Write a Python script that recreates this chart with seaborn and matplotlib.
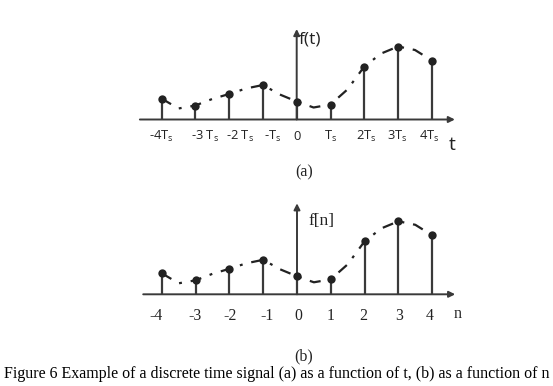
import matplotlib
matplotlib.use("Agg")
import matplotlib.pyplot as plt
import seaborn as sns

# ---- data (heights in px above the axis) ----
n_idx = [-4, -3, -2, -1, 0, 1, 2, 3, 4]
f_samples = [21, 14, 25.5, 34.5, 18, 15, 53, 73, 59]

# envelope curve, read at half steps
curve_x = [-4, -3.5, -3, -2.5, -2, -1.5, -1, -0.5, 0, 0.5, 1, 1.5, 2, 2.5, 3, 3.5, 4]
curve_y = [21, 11, 14, 20.5, 25.5, 31, 34.5, 25, 18, 12, 15, 30, 53, 66, 73, 69.5, 59]

labels_t = ["-4T$_s$", "-3 T$_s$", "-2 T$_s$", "-T$_s$", "0", "T$_s$", "2T$_s$",
            "3T$_s$", "4T$_s$"]
labels_n = ["-4", "-3", "-2", "-1", "0", "1", "2", "3", "4"]
caption = "Figure 6 Example of a discrete time signal (a) as a function of t, (b) as a function of n"

# ---- style ----
sns.set_style("white")
SANS = ["Open Sans", "DejaVu Sans"]
SERIF = ["Liberation Serif", "DejaVu Serif"]
plt.rcParams["font.family"] = SANS
plt.rcParams["mathtext.default"] = "regular"
INK = "#222222"
AXC = "#3a3a3a"

W, H = 553, 386
fig = plt.figure(figsize=(W / 100, H / 100), dpi=100)


def make_ax(zero_x, base_y, scale, xlim, ylim):
    # 1 x unit = scale px, 1 y unit = 1 px
    left = zero_x + xlim[0] * scale
    right = zero_x + xlim[1] * scale
    bottom = base_y - ylim[0]
    top = base_y - ylim[1]
    ax = fig.add_axes([left / W, 1 - bottom / H, (right - left) / W, (bottom - top) / H])
    ax.set_xlim(xlim)
    ax.set_ylim(ylim)
    ax.axis("off")
    return ax


def draw_signal(ax, x_start, x_end, y_top):
    # axes with arrows
    ax.annotate("", xy=(x_end, 0), xytext=(x_start, 0),
                arrowprops=dict(arrowstyle="-|>", color=AXC, lw=1.4, mutation_scale=9,
                                shrinkA=0, shrinkB=0))
    ax.annotate("", xy=(0, y_top), xytext=(0, 0),
                arrowprops=dict(arrowstyle="-|>", color=AXC, lw=1.4, mutation_scale=9,
                                shrinkA=0, shrinkB=0))
    # envelope
    sns.lineplot(x=curve_x, y=curve_y, ax=ax, color=INK, lw=1.6, legend=False,
                 linestyle=(0, (5, 4, 1.3, 4)), zorder=2)
    # stems + dots
    ax.vlines(n_idx, 0, f_samples, color=AXC, lw=1.6, zorder=3)
    sns.scatterplot(x=n_idx, y=f_samples, ax=ax, color=INK, s=36, edgecolor=INK,
                    linewidth=0, zorder=4, legend=False)


# ---- panel (a) ----
ax_a = make_ax(296.7, 119.5, 33.8, (-5.0, 5.3), (-65, 100))
draw_signal(ax_a, -4.64, 4.68, 90.5)
shift_a = [0, 0.28, 0.33, 0.3, 0, 0, 0.07, -0.03, -0.07]
for x, lab, dx in zip(n_idx, labels_t, shift_a):
    ax_a.text(x + dx, -16.5, lab, ha="center", va="center", fontsize=9.3, color=INK)
ax_a.text(0.06, 79.5, "f(t)", ha="left", va="center", fontsize=12.5, color=INK)
ax_a.text(4.6, -26, "t", ha="center", va="center", fontsize=14, color=INK)
ax_a.text(0.22, -53, "(a)", ha="center", va="center", fontsize=11.5, color=INK, family=SERIF)

# ---- panel (b) ----
ax_b = make_ax(297.0, 294.3, 33.8, (-5.0, 5.3), (-70, 100))
draw_signal(ax_b, -4.55, 4.68, 91)
shift_b = [-0.17, -0.03, 0.02, 0.1, 0.05, 0, -0.04, 0.03, -0.06]
for x, lab, dx in zip(n_idx, labels_n, shift_b):
    ax_b.text(x + dx, -21.7, lab, ha="center", va="center", fontsize=11.3, color=INK,
              family=SERIF)
ax_b.text(0.33, 73, "f[n]", ha="left", va="center", fontsize=12.5, color=INK, family=SERIF)
ax_b.text(4.75, -20, "n", ha="center", va="center", fontsize=11.5, color=INK, family=SERIF)
ax_b.text(0.19, -62.4, "(b)", ha="center", va="center", fontsize=11.5, color=INK, family=SERIF)

fig.text(277 / W, 1 - 374 / H, caption, ha="center", va="center", fontsize=11.5,
         color="black", family=SERIF)

fig.savefig("out.png", dpi=100, facecolor="white")
